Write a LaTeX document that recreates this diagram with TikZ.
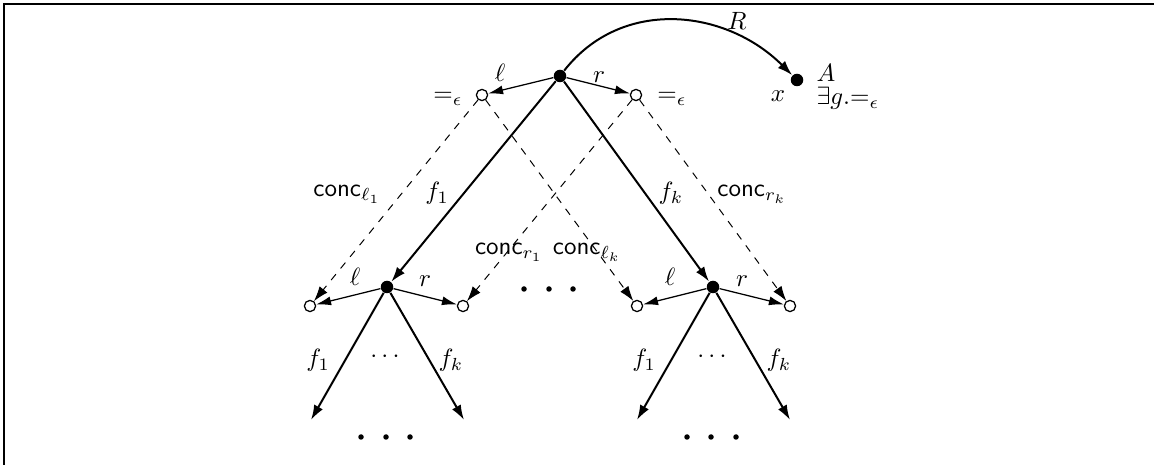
\documentclass[tikz,border=0pt]{standalone}
\usetikzlibrary{arrows.meta}
\begin{document}
\begin{tikzpicture}[x=0.4pt,y=-0.4pt,
  full/.style={circle,fill,inner sep=0pt,minimum size=5pt},
  hollow/.style={circle,draw,fill=white,inner sep=0pt,minimum size=4.5pt,line width=0.5pt},
  dotn/.style={circle,fill,inner sep=0pt,minimum size=2.2pt},
  mainedge/.style={line width=0.8pt,-{Latex[length=6pt,width=4pt]}},
  smalledge/.style={line width=0.5pt,-{Latex[length=6pt,width=3.6pt]}},
  concedge/.style={dashed,line width=0.4pt,-{Latex[length=6pt,width=4pt]}},
  lbl/.style={inner sep=0pt,anchor=base},
  lblw/.style={inner sep=0pt,anchor=base west}]
\useasboundingbox (0,0) rectangle (1154,465);
\draw[line width=0.8pt] (4,465) -- (4,4) -- (1154,4);

% nodes
\node[full] (root) at (560,76) {};
\node[hollow] (l0) at (482,95) {};
\node[hollow] (r0) at (636,95) {};
\node[full] (x) at (797,80) {};
\node[full] (m1) at (387,287) {};
\node[full] (m2) at (713,287) {};
\node[hollow] (l1) at (310,306) {};
\node[hollow] (r1) at (463,306) {};
\node[hollow] (l2) at (637,306) {};
\node[hollow] (r2) at (790,306) {};
\coordinate (b1) at (311,420);
\coordinate (b2) at (464,420);
\coordinate (b3) at (637,420);
\coordinate (b4) at (790,420);

% dots
\node[dotn] (d1) at (524,289) {};
\node[dotn] (d2) at (549,289) {};
\node[dotn] (d3) at (573,289) {};
\node[dotn] (e1) at (361,437) {};
\node[dotn] (e2) at (386,437) {};
\node[dotn] (e3) at (410,437) {};
\node[dotn] (g1) at (687,437) {};
\node[dotn] (g2) at (711,437) {};
\node[dotn] (g3) at (736,437) {};

% edges
\draw[mainedge] (root) -- (m1);
\draw[mainedge] (root) -- (m2);
\draw[smalledge] (root) -- (l0);
\draw[smalledge] (root) -- (r0);
\draw[mainedge] (root) to[out=52,in=135,looseness=1.05] (x);
\draw[concedge] (l0) -- (l1);
\draw[concedge] (l0) -- (l2);
\draw[concedge] (r0) -- (r1);
\draw[concedge] (r0) -- (r2);
\draw[smalledge] (m1) -- (l1);
\draw[smalledge] (m1) -- (r1);
\draw[smalledge] (m2) -- (l2);
\draw[smalledge] (m2) -- (r2);
\draw[mainedge] (m1) -- (b1);
\draw[mainedge] (m1) -- (b2);
\draw[mainedge] (m2) -- (b3);
\draw[mainedge] (m2) -- (b4);

% labels
\node[lbl] (tl) at (500,82) {$\ell$};
\node[lbl] (tr) at (599,83) {$r$};
\node[lbl] (eqL) at (448,102) {$=_\epsilon$};
\node[lbl] (eqR) at (672,102) {$=_\epsilon$};
\node[lbl] (tR) at (737,30) {$R$};
\node[lbl] (tx) at (778,102) {$x$};
\node[lblw] (tA) at (816,82) {$A$};
\node[lblw] (tE) at (816,105) {$\exists g.{=_\epsilon}$};
\node[lbl] (ml1) at (355,286) {$\ell$};
\node[lbl] (mr1) at (425,287) {$r$};
\node[lbl] (ml2) at (670,286) {$\ell$};
\node[lbl] (mr2) at (742,287) {$r$};
\node[lbl] (f1a) at (437,200) {$f_1$};
\node[lbl] (fka) at (671,200) {$f_k$};
\node[lbl] (cl1) at (347,197) {$\mathsf{conc}_{\ell_1}$};
\node[lbl] (crk) at (752,197) {$\mathsf{conc}_{r_k}$};
\node[lbl] (cr1) at (509,255) {$\mathsf{conc}_{r_1}$};
\node[lbl] (clk) at (587,255) {$\mathsf{conc}_{\ell_k}$};
\node[lbl] (f1b) at (318,367) {$f_1$};
\node[lbl] (cd1) at (385,363) {$\cdots$};
\node[lbl] (fkb) at (451,367) {$f_k$};
\node[lbl] (f1c) at (644,367) {$f_1$};
\node[lbl] (cd2) at (712,363) {$\cdots$};
\node[lbl] (fkc) at (779,367) {$f_k$};
\end{tikzpicture}
\end{document}
